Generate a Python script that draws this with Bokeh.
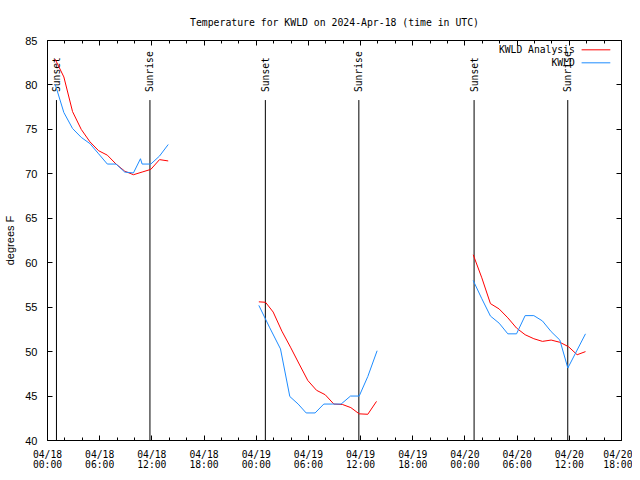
import math
from bokeh.plotting import figure
from bokeh.models import Range1d, FixedTicker, LinearAxis, Label, CustomLabelingPolicy
from bokeh.core.properties import value
from bokeh.embed import file_html
from bokeh.resources import INLINE

# ---------------- data ----------------
title_text = "Temperature for KWLD on 2024-Apr-18 (time in UTC)"
y_label = "degrees F"

# hours since 2024-04-18 00:00 UTC
tick_hours = [0, 6, 12, 18, 24, 30, 36, 42, 48, 54, 60, 66]
tick_labels = ["04/18\n00:00", "04/18\n06:00", "04/18\n12:00", "04/18\n18:00",
               "04/19\n00:00", "04/19\n06:00", "04/19\n12:00", "04/19\n18:00",
               "04/20\n00:00", "04/20\n06:00", "04/20\n12:00", "04/20\n18:00"]
y_ticks = [40, 45, 50, 55, 60, 65, 70, 75, 80, 85]

event_hours = [1.03, 11.78, 25.05, 35.8, 49.05, 59.82]
event_names = ["Sunset", "Sunrise", "Sunset", "Sunrise", "Sunset", "Sunrise"]

# KWLD Analysis (red)
ana_t1 = [0.88, 1.88, 2.88, 3.88, 4.88, 5.88, 6.88, 7.88, 8.88, 9.88, 10.88, 11.88, 12.88, 13.88]
ana_v1 = [82.9, 80.9, 77.0, 75.0, 73.6, 72.6, 72.1, 71.1, 70.3, 69.9, 70.2, 70.5, 71.6, 71.45]
ana_t2 = [24.30, 25.07, 25.95, 26.95, 27.94, 28.94, 29.93, 30.93, 31.93, 32.92, 33.92, 34.88, 35.84, 36.83, 37.83]
ana_v2 = [55.6, 55.55, 54.45, 52.3, 50.5, 48.6, 46.75, 45.65, 45.15, 44.1, 44.05, 43.7, 43.0, 42.95, 44.4]
ana_t3 = [48.95, 49.94, 50.93, 51.93, 52.93, 53.93, 54.92, 55.92, 56.91, 57.91, 58.91, 59.91, 60.90, 61.86]
ana_v3 = [60.9, 58.3, 55.4, 54.8, 53.8, 52.65, 51.9, 51.45, 51.15, 51.3, 51.05, 50.55, 49.65, 50.0]

# KWLD observations (blue)
obs_t1 = [0.88, 1.88, 2.88, 3.88, 4.88, 5.88, 6.88, 7.88, 8.88, 9.88, 10.69, 10.88, 11.88, 12.88, 13.88]
obs_v1 = [80.1, 76.9, 75.1, 74.1, 73.4, 72.25, 71.1, 71.1, 70.2, 70.1, 71.7, 71.1, 71.1, 72.0, 73.3]
obs_t2 = [24.30, 25.52, 26.79, 27.86, 28.82, 29.74, 30.77, 31.77, 32.77, 33.76, 34.84, 35.84, 36.83, 37.90]
obs_v2 = [55.2, 52.75, 50.3, 44.95, 44.1, 43.1, 43.1, 44.1, 44.1, 44.1, 45.0, 45.0, 47.2, 50.1]
obs_t3 = [48.95, 49.94, 50.93, 51.93, 52.93, 53.93, 54.92, 55.92, 56.91, 57.91, 58.91, 59.83, 61.86]
obs_v3 = [58.0, 55.95, 54.0, 53.2, 52.0, 52.0, 54.05, 54.05, 53.45, 52.25, 51.3, 48.15, 52.0]

series_names = ["KWLD Analysis", "KWLD"]
series_colors = ["#ff0000", "#1e8cff"]

# ---------------- figure ----------------
X0, X1 = 0, 66
Y0, Y1 = 40, 85
MONO = "DejaVu Sans Mono"
SANS = "Liberation Sans"

p = figure(width=632, height=472, output_backend="svg", toolbar_location=None,
           x_range=Range1d(X0, X1), y_range=Range1d(Y0, Y1),
           x_axis_type=None, y_axis_type=None,
           min_border_left=47, min_border_right=11, min_border_top=40, min_border_bottom=32)
p.background_fill_color = "white"
p.border_fill_color = "white"
p.outline_line_color = "black"
p.outline_line_width = 1

p.title.text = title_text
p.title.align = "center"
p.title.text_font = MONO
p.title.text_font_size = "9.8px"
p.title.text_font_style = "normal"
p.title.text_color = "black"
p.title.standoff = 18

xt = FixedTicker(ticks=tick_hours, minor_ticks=list(range(X0, X1 + 1, 2)))
yt = FixedTicker(ticks=y_ticks, minor_ticks=[])


def style_axis(ax, labels=True):
    ax.axis_line_color = None
    ax.major_tick_in = 5
    ax.major_tick_out = 0
    ax.minor_tick_in = 3
    ax.minor_tick_out = 0
    ax.major_tick_line_color = "black"
    ax.minor_tick_line_color = "black"
    ax.major_label_text_color = "black"
    ax.axis_label_text_color = "black"
    if not labels:
        ax.major_label_policy = CustomLabelingPolicy(
            code="for (const i of indices) { indices.unset(i) }\nreturn indices")
        ax.major_label_text_font_size = "2px"
        ax.major_label_standoff = 0


xb = LinearAxis(ticker=xt)
style_axis(xb)
xb.major_label_overrides = {h: s for h, s in zip(tick_hours, tick_labels)}
xb.major_label_text_font = MONO
xb.major_label_text_font_size = "9.7px"
xb.major_label_text_line_height = 0.95
xb.major_label_standoff = 8
p.add_layout(xb, "below")

xa = LinearAxis(ticker=xt)
style_axis(xa, labels=False)
p.add_layout(xa, "above")

yl = LinearAxis(ticker=yt)
style_axis(yl)
yl.major_label_text_font = SANS
yl.major_label_text_font_size = "11px"
yl.major_label_standoff = 10
yl.axis_label = y_label
yl.axis_label_text_font = SANS
yl.axis_label_text_font_size = "11px"
yl.axis_label_text_font_style = "normal"
yl.axis_label_standoff = 6
p.add_layout(yl, "left")

yr = LinearAxis(ticker=yt)
style_axis(yr, labels=False)
p.add_layout(yr, "right")

p.xgrid.visible = False
p.ygrid.visible = False

# sunset / sunrise markers
LINE_TOP = 78.3
LABEL_Y = 79.2
p.segment(x0=event_hours, y0=[Y0] * len(event_hours), x1=event_hours,
          y1=[LINE_TOP] * len(event_hours), line_color="black", line_width=1)
p.text(x=event_hours, y=[LABEL_Y] * len(event_hours), text=event_names,
       angle=math.pi / 2, text_align="left", text_baseline="middle",
       text_font=value(MONO), text_font_size="9.7px", text_color="black")


def join(*parts):
    xs, ys = [], []
    for i, (t, v) in enumerate(parts):
        if i:
            xs.append(float("nan"))
            ys.append(float("nan"))
        xs += t
        ys += v
    return xs, ys


ax_, ay_ = join((ana_t1, ana_v1), (ana_t2, ana_v2), (ana_t3, ana_v3))
bx_, by_ = join((obs_t1, obs_v1), (obs_t2, obs_v2), (obs_t3, obs_v3))
p.line(ax_, ay_, line_color=series_colors[0], line_width=1)
p.line(bx_, by_, line_color=series_colors[1], line_width=1)

# legend (gnuplot style: text left of sample line), placed relative to ranges
xr = X1 - X0
yr_ = Y1 - Y0
leg_text_x = X0 + 0.9185 * xr
leg_l0 = X0 + 0.9305 * xr
leg_l1 = X0 + 0.9805 * xr
leg_ys = [Y1 - 0.0233 * yr_, Y1 - 0.0558 * yr_]
for name, col, ly in zip(series_names, series_colors, leg_ys):
    p.add_layout(Label(x=leg_text_x, y=ly, text=name, text_align="right",
                       text_baseline="middle", text_font=MONO,
                       text_font_size="9.7px", text_color="black"))
p.segment(x0=[leg_l0] * 2, y0=leg_ys, x1=[leg_l1] * 2, y1=leg_ys,
          line_color=series_colors, line_width=1)

open("out.html", "w").write(file_html(p, INLINE))
